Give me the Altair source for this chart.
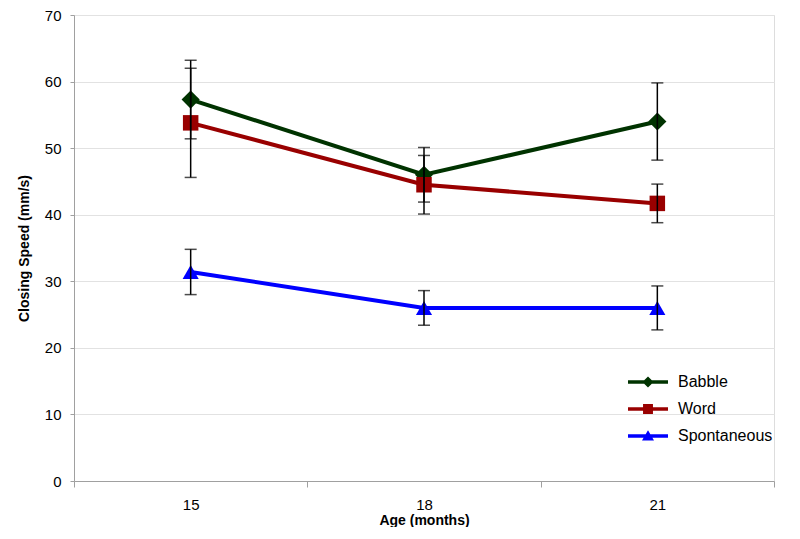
import altair as alt
import pandas as pd

ages = ["15", "18", "21"]
series_names = ["Babble", "Word", "Spontaneous"]
babble = [57.3, 46.0, 54.0]
babble_err = [5.9, 4.1, 5.8]
word = [53.8, 44.5, 41.7]
word_err = [8.2, 4.4, 2.9]
spont = [31.4, 26.0, 26.0]
spont_err = [3.4, 2.6, 3.3]

colors = ["#003300", "#990000", "#0000FF"]
shapes = ["diamond", "square", "triangle-up"]
marker_sizes = [330, 240, 260]

rows = []
for name, vals, errs in zip(series_names, [babble, word, spont], [babble_err, word_err, spont_err]):
    for a, v, e in zip(ages, vals, errs):
        rows.append({"age": a, "series": name, "value": v, "lo": v - e, "hi": v + e})
df = pd.DataFrame(rows)

FONT = "Liberation Sans"

# legend symbols: line + marker as custom paths
leg_diamond = "M-2.5,-0.22H2.5V0.22H-2.5Z M0,-0.7L0.7,0L0,0.7L-0.7,0Z"
leg_square = "M-2.5,-0.22H2.5V0.22H-2.5Z M-0.62,-0.62H0.62V0.62H-0.62Z"
leg_tri = "M-2.5,-0.22H2.5V0.22H-2.5Z M0,-0.72L0.75,0.55L-0.75,0.55Z"
shape_expr = (
    f"datum.value == 'Babble' ? '{leg_diamond}' : "
    f"(datum.value == 'Word' ? '{leg_square}' : '{leg_tri}')"
)
fill_expr = (
    f"datum.value == 'Babble' ? '{colors[0]}' : "
    f"(datum.value == 'Word' ? '{colors[1]}' : '{colors[2]}')"
)

legend = alt.Legend(
    title=None,
    orient="none",
    legendX=566,
    legendY=359,
    padding=0,
    symbolSize=256,
    symbolType=alt.ExprRef(shape_expr),
    symbolFillColor=alt.ExprRef(fill_expr),
    symbolStrokeWidth=0,
    symbolOpacity=1,
    labelOffset=22,
    labelFont=FONT,
    labelFontSize=16,
    labelColor="#000000",
    rowPadding=11,
)

x_enc = alt.X(
    "age:N",
    sort=ages,
    scale=alt.Scale(paddingInner=0, paddingOuter=0),
    axis=alt.Axis(
        title="Age (months)",
        labelAngle=0,
        tickBand="extent",
        labelFont=FONT,
        labelFontSize=15,
        labelColor="#000000",
        labelPadding=10,
        tickSize=6,
        tickColor="#a0a0a0",
        domainColor="#a0a0a0",
        titleFont=FONT,
        titleFontSize=14,
        titleFontWeight="bold",
        titleColor="#000000",
        titlePadding=1,
        grid=False,
    ),
)

y_scale = alt.Scale(domain=[0, 70], nice=False)
y_axis = alt.Axis(
    title="Closing Speed (mm/s)",
    values=[0, 10, 20, 30, 40, 50, 60, 70],
    labelFont=FONT,
    labelFontSize=15,
    labelColor="#000000",
    labelPadding=9,
    tickSize=4,
    tickColor="#a0a0a0",
    domainColor="#a0a0a0",
    gridColor="#e2e2e2",
    titleFont=FONT,
    titleFontSize=14,
    titleFontWeight="bold",
    titleColor="#000000",
    titlePadding=13,
)

color_scale = alt.Scale(domain=series_names, range=colors)

base = alt.Chart(df)

lines = base.mark_line(strokeWidth=4).encode(
    x=x_enc,
    y=alt.Y("value:Q", scale=y_scale, axis=y_axis),
    color=alt.Color("series:N", scale=color_scale, legend=legend),
    detail="series:N",
)

point_layers = []
for name, shp, sz in zip(series_names, shapes, marker_sizes):
    point_layers.append(
        base.transform_filter(alt.datum.series == name)
        .mark_point(filled=True, size=sz, opacity=1, shape=shp)
        .encode(
            x=alt.X("age:N", sort=ages),
            y=alt.Y("value:Q", scale=y_scale),
            color=alt.Color("series:N", scale=color_scale, legend=legend),
        )
    )

rules = base.mark_rule(color="#000000", strokeWidth=1.5).encode(
    x=alt.X("age:N", sort=ages),
    y=alt.Y("lo:Q", scale=y_scale),
    y2="hi:Q",
)

caps_lo = base.mark_tick(color="#000000", thickness=1.5, size=12).encode(
    x=alt.X("age:N", sort=ages),
    y=alt.Y("lo:Q", scale=y_scale),
)
caps_hi = base.mark_tick(color="#000000", thickness=1.5, size=12).encode(
    x=alt.X("age:N", sort=ages),
    y=alt.Y("hi:Q", scale=y_scale),
)

chart = (
    alt.layer(lines, *point_layers, rules, caps_lo, caps_hi)
    .properties(width=700, height=466, padding={"left": 9, "top": 0, "right": 0, "bottom": 0})
    .configure_view(stroke=None)
    .configure(background="#ffffff")
)

chart.save("out.html", embed_options={"renderer": "svg", "actions": False})
